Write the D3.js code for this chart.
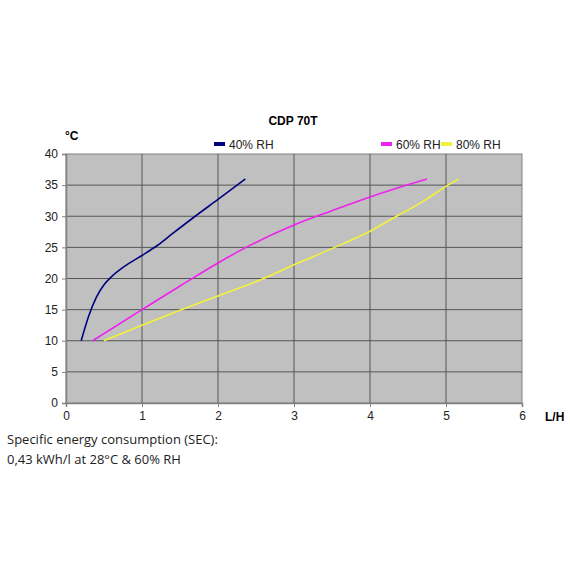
<!DOCTYPE html>
<html>
<head>
<meta charset="utf-8">
<script src="https://cdn.jsdelivr.net/npm/d3@7"></script>
<style>
  body { margin: 0; background: #fff; }
  svg text { font-family: "Liberation Sans", Arial, sans-serif; }
  svg text.note { font-family: "Open Sans", "Noto Sans", sans-serif; }
</style>
</head>
<body>
<svg id="chart" width="570" height="570"></svg>
<script>
// Series values (L/H, °C)
let rh40 = [[0.2, 10], [0.3, 14], [0.4, 17], [0.5, 19], [0.6, 20.3], [0.8, 22.2], [1.0, 23.7],
  [1.2, 25.3], [1.4, 27.2], [1.7, 30], [2.0, 32.7], [2.36, 36]];
let rh60 = [[0.35, 10], [1.0, 15], [1.5, 18.8], [2.0, 22.5], [2.4, 25.2], [3.0, 28.6],
  [3.5, 30.9], [4.0, 33.1], [4.4, 34.7], [4.75, 36]];
let rh80 = [[0.5, 10], [1.0, 12.5], [1.5, 14.9], [2.0, 17.2], [2.6, 20], [3.0, 22.2],
  [3.5, 24.8], [4.0, 27.6], [4.35, 30], [4.7, 32.4], [5.0, 34.8], [5.17, 36]];

let seriesNames = ["40% RH", "60% RH", "80% RH"];
let seriesColors = ["#000080", "#ee22ee", "#f2f23c"];
let xTicks = [0, 1, 2, 3, 4, 5, 6];
let yTicks = [0, 5, 10, 15, 20, 25, 30, 35, 40];

let svg = d3.select("#chart");
let plotLeft = 66, plotRight = 522, plotTop = 154, plotBottom = 403;

let x = d3.scaleLinear().domain([0, 6]).range([plotLeft, plotRight]);
let y = d3.scaleLinear().domain([0, 40]).range([plotBottom, plotTop]);

// plot background
svg.append("rect")
  .attr("x", plotLeft).attr("y", plotTop)
  .attr("width", plotRight - plotLeft).attr("height", plotBottom - plotTop)
  .attr("fill", "#c0c0c0")
  .attr("stroke", "#808080");

// grid
svg.append("g").selectAll("line").data(xTicks.slice(1, -1)).enter()
  .append("line")
  .attr("x1", d => x(d)).attr("x2", d => x(d))
  .attr("y1", plotTop).attr("y2", plotBottom)
  .attr("stroke", "#555").attr("stroke-width", 1);
svg.append("g").selectAll("line").data(yTicks.slice(1, -1)).enter()
  .append("line")
  .attr("x1", plotLeft).attr("x2", plotRight)
  .attr("y1", d => y(d)).attr("y2", d => y(d))
  .attr("stroke", "#555").attr("stroke-width", 1);

// axes
let xAxis = svg.append("g")
  .attr("transform", "translate(0," + plotBottom + ")")
  .call(d3.axisBottom(x).tickValues(xTicks).tickFormat(d3.format("d")).tickSize(4).tickPadding(4));
let yAxis = svg.append("g")
  .attr("transform", "translate(" + plotLeft + ",0)")
  .call(d3.axisLeft(y).tickValues(yTicks).tickFormat(d3.format("d")).tickSize(4).tickPadding(4));
[xAxis, yAxis].forEach(a => {
  a.select(".domain").attr("stroke", "#808080").attr("stroke-width", 1.5);
  a.selectAll(".tick line").attr("stroke", "#808080");
  a.selectAll("text").attr("font-size", 12).attr("fill", "#222");
});

// lines
let line = d3.line()
  .x(d => x(d[0]))
  .y(d => y(d[1]))
  .curve(d3.curveMonotoneX);

[rh40, rh60, rh80].forEach((s, i) => {
  svg.append("path")
    .datum(s)
    .attr("d", line)
    .attr("fill", "none")
    .attr("stroke", seriesColors[i])
    .attr("stroke-width", 1.6);
});

// title and axis labels
svg.append("text").attr("x", 293).attr("y", 125)
  .attr("text-anchor", "middle").attr("font-size", 12).attr("font-weight", "bold")
  .text("CDP 70T");
svg.append("text").attr("x", 65).attr("y", 140)
  .attr("font-size", 12).attr("font-weight", "bold")
  .text("°C");
svg.append("text").attr("x", 545).attr("y", 421)
  .attr("font-size", 12).attr("font-weight", "bold")
  .text("L/H");

// legend
let legendX = [214, 381, 441];
seriesNames.forEach((n, i) => {
  let g = svg.append("g").attr("transform", "translate(" + legendX[i] + ",144)");
  g.append("rect").attr("x", 0).attr("y", -2).attr("width", 11).attr("height", 4)
    .attr("fill", seriesColors[i]);
  g.append("text").attr("x", 15).attr("y", 4.5)
    .attr("font-size", 12).attr("fill", "#222")
    .text(n);
});

// footnote
let note = svg.append("text")
  .attr("class", "note")
  .attr("font-size", 13).attr("fill", "#222");
note.append("tspan").attr("x", 7).attr("y", 444).text("Specific energy consumption (SEC):");
note.append("tspan").attr("x", 7).attr("y", 464).text("0,43 kWh/l at 28°C & 60% RH");
</script>
</body>
</html>
